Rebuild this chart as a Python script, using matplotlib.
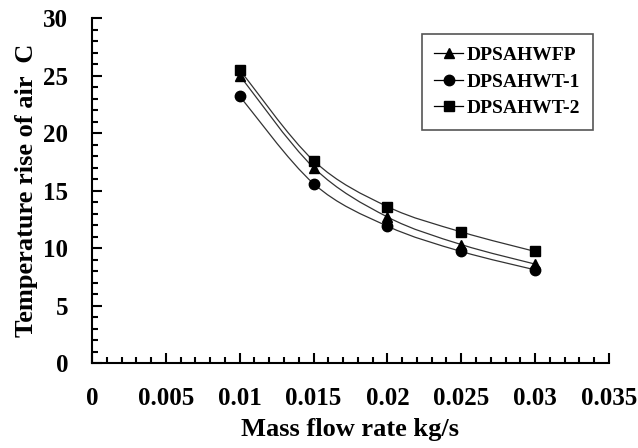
import matplotlib.pyplot as plt
from matplotlib.path import Path
from matplotlib.patches import PathPatch
from matplotlib.lines import Line2D
from matplotlib.ticker import MultipleLocator

plt.rcParams['font.family'] = ['Liberation Serif', 'DejaVu Serif']
plt.rcParams['font.weight'] = 'bold'

# 数据
mass_flow = [0.01, 0.015, 0.02, 0.025, 0.03]
dpsahwfp = [25.0, 17.0, 12.7, 10.3, 8.6]
dpsahwt1 = [23.2, 15.6, 11.9, 9.7, 8.1]
dpsahwt2 = [25.5, 17.6, 13.6, 11.4, 9.7]

series = [
    ('DPSAHWFP', dpsahwfp, '^'),
    ('DPSAHWT-1', dpsahwt1, 'o'),
    ('DPSAHWT-2', dpsahwt2, 's'),
]


def smooth_path(xs, ys):
    # Excel 风格的平滑线 (Catmull-Rom -> Bezier)
    pts = list(zip(xs, ys))
    n = len(pts)
    verts = [pts[0]]
    codes = [Path.MOVETO]
    for i in range(n - 1):
        p0 = pts[i - 1] if i > 0 else pts[i]
        p1 = pts[i]
        p2 = pts[i + 1]
        p3 = pts[i + 2] if i + 2 < n else pts[i + 1]
        c1 = (p1[0] + (p2[0] - p0[0]) / 6, p1[1] + (p2[1] - p0[1]) / 6)
        c2 = (p2[0] - (p3[0] - p1[0]) / 6, p2[1] - (p3[1] - p1[1]) / 6)
        verts += [c1, c2, p2]
        codes += [Path.CURVE4] * 3
    return Path(verts, codes)


fig = plt.figure(figsize=(6.38, 4.48), dpi=100)
ax = fig.add_axes([0.1442, 0.1897, 0.8103, 0.7701])

handles = []
for name, vals, mk in series:
    patch = PathPatch(smooth_path(mass_flow, vals), facecolor='none',
                      edgecolor='#333333', linewidth=0.9, zorder=2)
    ax.add_patch(patch)
    ax.plot(mass_flow, vals, linestyle='none', marker=mk, markersize=7.5,
            color='black', zorder=3)
    handles.append(Line2D([], [], color='black', linewidth=0.9, marker=mk,
                          markersize=7.5, label=name))

ax.set_xlim(0, 0.035)
ax.set_ylim(0, 30)
ax.xaxis.set_minor_locator(MultipleLocator(0.001))
ax.yaxis.set_major_locator(MultipleLocator(5))
ax.yaxis.set_minor_locator(MultipleLocator(1))
ax.set_xticks([0, 0.005, 0.01, 0.015, 0.02, 0.025, 0.03, 0.035])
ax.set_xticklabels(['0', '0.005', '0.01', '0.015', '0.02', '0.025', '0.03', '0.035'])

ax.spines['top'].set_visible(False)
ax.spines['right'].set_visible(False)
ax.spines['left'].set_linewidth(1.5)
ax.spines['bottom'].set_linewidth(1.5)

ax.tick_params(axis='both', which='major', direction='in', length=7, width=1.5,
               labelsize=18)
ax.tick_params(axis='x', which='major', pad=17)
ax.tick_params(axis='y', which='major', pad=17)
ax.tick_params(axis='both', which='minor', direction='in', length=4, width=1.5)

ax.set_xlabel('Mass flow rate kg/s', fontsize=19, fontweight='bold', labelpad=6)
ax.set_ylabel('Temperature rise of air  C', fontsize=19, fontweight='bold', labelpad=4)

leg = ax.legend(handles=handles, loc='upper right', bbox_to_anchor=(0.987, 0.982),
                fontsize=14, handlelength=1.5, handletextpad=0.15,
                borderpad=0.65, labelspacing=0.45, fancybox=False, framealpha=1)
leg.get_frame().set_edgecolor('#555555')
leg.get_frame().set_linewidth(1.2)

plt.savefig('out.png', dpi=100)
